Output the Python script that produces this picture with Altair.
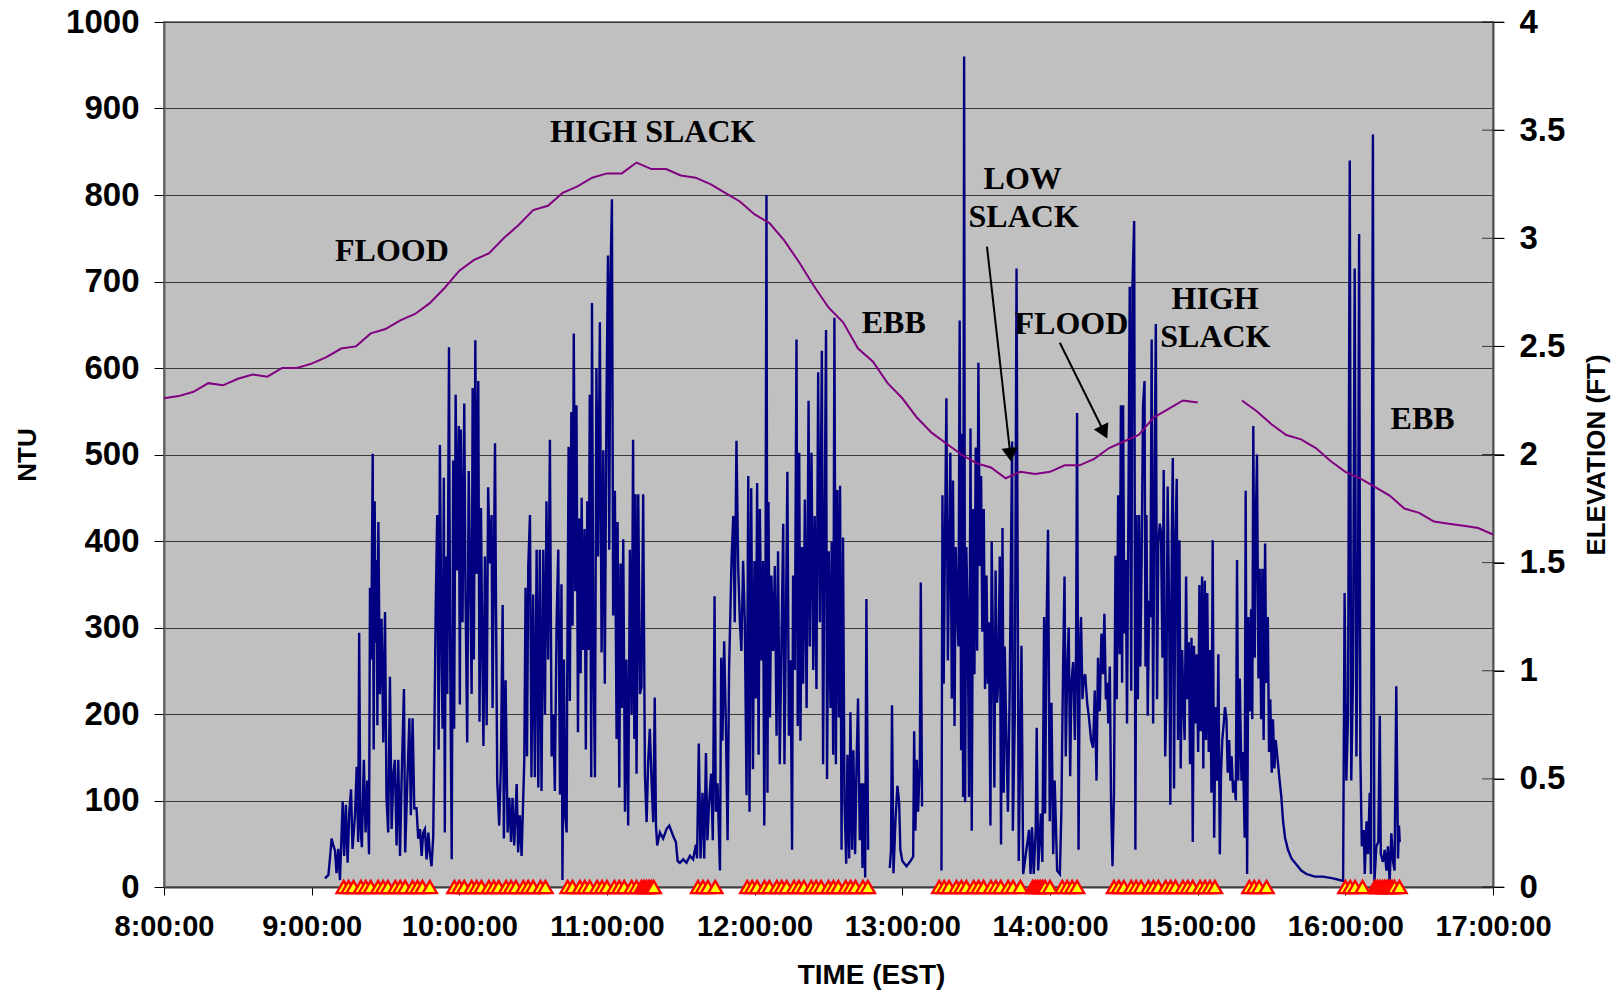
import altair as alt
import pandas as pd

# ---------------- data (time = minutes after 8:00:00) ----------------
hour_ticks = [0, 60, 120, 180, 240, 300, 360, 420, 480, 540]
ntu_ticks = [0, 100, 200, 300, 400, 500, 600, 700, 800, 900, 1000]
elev_ticks = [0, 0.5, 1, 1.5, 2, 2.5, 3, 3.5, 4]

# turbidity (NTU), three continuous runs of the record
ntu_seg1 = [
    (65.4, 10), (66.8, 14), (67.4, 32), (68.1, 56), (68.8, 48), (69.5, 42), (70.1, 16), (70.8, 44),
    (71.5, 8), (72.6, 99), (73.2, 36), (73.9, 95), (74.6, 28), (75.3, 87), (76.0, 113), (76.6, 44),
    (77.6, 83), (78.3, 139), (78.9, 52), (79.3, 294), (79.8, 71), (80.4, 46), (81.2, 147), (81.9, 63),
    (82.6, 123), (83.3, 38), (83.7, 346), (84.2, 263), (84.8, 501), (85.2, 159), (85.6, 446), (86.0, 282),
    (86.4, 378), (86.7, 187), (87.1, 422), (87.7, 223), (88.4, 310), (89.1, 167), (89.8, 318), (90.4, 103),
    (91.1, 63), (91.8, 243), (92.5, 67), (93.2, 131), (93.8, 147), (94.5, 48), (95.2, 147), (95.9, 36),
    (96.5, 119), (97.5, 229), (98.0, 40), (98.8, 115), (99.7, 195), (100.3, 83), (101.0, 195), (101.7, 91),
    (102.6, 91), (103.3, 56), (104.0, 67), (104.7, 36), (105.3, 63), (106.0, 67), (106.7, 32), (107.4, 63),
    (108.0, 40), (108.7, 24), (109.4, 59),
    (110.4, 322), (111.0, 430), (111.6, 159), (112.1, 511), (112.8, 255), (113.2, 183), (113.7, 473),
    (114.1, 63), (114.5, 382), (115.1, 223), (115.8, 624), (116.2, 302), (116.9, 32), (117.5, 493),
    (117.9, 183), (118.5, 569), (119.2, 366), (119.8, 533), (120.2, 211), (120.6, 529), (121.3, 306),
    (122.0, 559), (122.5, 342), (123.2, 167), (123.8, 481), (124.3, 382), (125.0, 223), (125.4, 577),
    (125.9, 263), (126.5, 632), (127.0, 362), (127.7, 585), (128.2, 191), (128.8, 438), (129.3, 282),
    (129.8, 163), (130.4, 382), (131.1, 187), (131.7, 462), (132.4, 374), (133.1, 430), (133.5, 207),
    (134.5, 513), (134.9, 326), (135.4, 123), (136.2, 71), (136.9, 143), (137.6, 326), (138.1, 56),
    (138.8, 239), (139.6, 63), (140.3, 103), (141.0, 52), (141.6, 103), (142.3, 48), (143.3, 119),
    (143.9, 40), (144.6, 83), (145.3, 36), (146.4, 147), (146.9, 346), (147.5, 151), (148.0, 370),
    (148.7, 430), (149.3, 127), (150.0, 338), (150.7, 127), (151.4, 390), (152.1, 115), (152.7, 390),
    (153.4, 111), (154.1, 390), (154.8, 199), (155.4, 446), (156.1, 263), (156.8, 517), (157.5, 151),
    (158.2, 199), (158.8, 111), (159.5, 302), (160.2, 390), (160.9, 107), (161.5, 350), (161.9, 8),
    (162.5, 263), (163.0, 83), (163.6, 63),
    (163.8, 223), (164.4, 509), (164.9, 215), (165.5, 549), (166.0, 302), (166.5, 640), (167.1, 342),
    (167.6, 557), (168.2, 179), (168.7, 426), (169.3, 247), (169.7, 450), (170.3, 274), (170.9, 414),
    (171.4, 159), (172.0, 446), (172.5, 274), (173.0, 569), (173.6, 127), (173.9, 675), (174.4, 290),
    (175.1, 127), (175.7, 600), (176.4, 382), (177.1, 653), (177.8, 271), (178.5, 505), (179.1, 235),
    (179.8, 560), (180.4, 730), (180.9, 390), (181.4, 700), (182.0, 795), (182.5, 314), (183.2, 458),
    (183.9, 171), (184.3, 422), (185.0, 115), (185.5, 374), (186.0, 207), (186.6, 402), (187.3, 87),
    (187.9, 263), (188.6, 71), (189.3, 390), (190.0, 199), (190.6, 517), (191.1, 171), (191.6, 454),
    (192.0, 131), (192.7, 454), (193.4, 223), (194.0, 231), (194.7, 454), (195.4, 131), (196.1, 75),
    (196.7, 143), (197.4, 183), (198.1, 123), (198.8, 75), (199.4, 219), (199.9, 71), (200.4, 48),
    (201.5, 63), (202.8, 56), (204.2, 67), (205.3, 71), (206.9, 59), (208.0, 52), (208.7, 30),
    (209.6, 28), (211.0, 32), (212.3, 28), (213.7, 36), (215.0, 32),
    (216.1, 49), (216.6, 33), (217.3, 166), (218.0, 33), (218.8, 109), (219.5, 33), (220.2, 155),
    (220.8, 54), (221.5, 98), (222.3, 131), (223.0, 54), (223.7, 336), (224.2, 87), (224.9, 120),
    (225.9, 19), (226.4, 265), (226.9, 169), (227.6, 284), (228.3, 188), (229.0, 54), (229.6, 251),
    (230.6, 377), (231.3, 429), (231.9, 306), (232.6, 516), (233.3, 371), (234.0, 306), (234.6, 273),
    (235.3, 377), (236.0, 306), (236.7, 106), (237.4, 475), (237.9, 87), (238.6, 461), (239.3, 136),
    (239.9, 377), (240.5, 218), (241.0, 467), (241.6, 153), (242.1, 437), (242.8, 262), (243.4, 377),
    (243.9, 71), (244.3, 229), (244.8, 800), (245.2, 109), (245.6, 445), (246.2, 196), (246.8, 360),
    (247.5, 273), (248.2, 371), (248.9, 175), (249.5, 388), (250.2, 142), (250.9, 284), (251.6, 420),
    (252.1, 142), (252.7, 306), (253.3, 480), (253.9, 175), (254.6, 262), (255.2, 43), (255.6, 360),
    (256.3, 251), (257.0, 633), (257.5, 186), (258.1, 502), (258.6, 169), (259.2, 393), (259.7, 235),
    (260.4, 448), (261.1, 207), (261.9, 562), (262.4, 278), (263.1, 502), (263.8, 251), (264.4, 429),
    (265.1, 229), (265.8, 595), (266.5, 306), (267.3, 620), (267.8, 142), (268.4, 415), (269.0, 644),
    (269.4, 125), (270.1, 388), (270.8, 207), (271.3, 399), (271.9, 153), (272.4, 658), (273.0, 142),
    (273.6, 459), (274.2, 196), (274.7, 464), (275.3, 43), (275.9, 404), (276.5, 98), (277.2, 27),
    (277.7, 153), (278.4, 33), (278.9, 202), (279.6, 43), (280.1, 158), (280.8, 38), (281.4, 142),
    (282.0, 218), (282.7, 54), (283.4, 120), (283.8, 22), (284.3, 120), (284.9, 11), (285.4, 333),
    (286.1, 43),
]

ntu_seg2 = [
    (294.9, 22), (295.4, 43), (295.8, 210), (296.4, 16), (297.2, 76), (298.0, 117), (298.7, 98),
    (299.2, 43), (300.0, 30), (301.7, 24), (303.3, 30), (304.4, 35), (304.8, 180), (305.3, 65),
    (305.9, 147), (306.4, 87), (307.1, 142), (307.5, 352), (308.0, 93),
]

ntu_seg3 = [
    (315.9, 19), (316.3, 453), (316.8, 235), (317.4, 420), (317.9, 565), (318.5, 262), (319.0, 377),
    (319.5, 502), (320.1, 218), (320.6, 470), (321.2, 186), (321.7, 393), (322.3, 317), (322.8, 278),
    (323.3, 655), (323.9, 158), (324.3, 524), (324.7, 104), (325.1, 960), (325.5, 98), (326.0, 393),
    (326.6, 306), (327.1, 104), (327.7, 530), (328.2, 65), (328.8, 437), (329.3, 246), (329.8, 508),
    (330.4, 273), (330.9, 606), (331.5, 371), (332.0, 475), (332.5, 295), (333.1, 437), (333.6, 229),
    (334.2, 360), (334.7, 235), (335.2, 306), (335.8, 71), (336.3, 399), (336.9, 262), (337.4, 115),
    (337.9, 366), (338.5, 213), (339.0, 240), (339.6, 382), (340.1, 49), (340.7, 415), (341.2, 109),
    (341.6, 278), (342.3, 169), (342.9, 87), (343.6, 224), (344.6, 515), (344.9, 65), (345.7, 196),
    (346.4, 715), (347.3, 30), (348.4, 279), (349.1, 15), (351.5, 66), (352.1, 15), (352.7, 69),
    (353.4, 15), (354.2, 66), (354.6, 184), (355.2, 19), (356.3, 85), (356.9, 29), (357.6, 312),
    (358.0, 85), (358.6, 298), (359.2, 413), (359.9, 76), (360.6, 213), (361.3, 38), (361.9, 123),
    (362.9, 19), (364.0, 15), (364.6, 85), (365.3, 250), (365.9, 359), (366.4, 151), (367.0, 250),
    (367.6, 300), (368.2, 128), (368.7, 236), (369.4, 260), (370.1, 170), (370.6, 276), (371.0, 548),
    (371.6, 43), (372.1, 272), (372.6, 312), (373.2, 217), (373.7, 241), (374.3, 246), (375.1, 213),
    (375.9, 194), (376.7, 170), (377.5, 161), (378.2, 227), (378.9, 123), (379.5, 265), (380.2, 203),
    (380.9, 293), (381.6, 246), (382.1, 316), (382.7, 217), (383.2, 236), (383.7, 189), (384.3, 255),
    (384.8, 100), (385.4, 24), (386.0, 109), (386.6, 383), (387.1, 217), (387.7, 453), (388.3, 269),
    (388.8, 557), (389.3, 236), (389.7, 557), (390.2, 293), (390.8, 378), (391.3, 189), (391.9, 453),
    (392.4, 694), (393.0, 227), (393.5, 694), (394.2, 770), (394.7, 43), (395.1, 430), (395.7, 217),
    (396.2, 430), (396.7, 255), (397.3, 397), (397.8, 557), (398.4, 585), (398.8, 255), (399.2, 430),
    (399.7, 198), (400.3, 331), (400.8, 312), (401.3, 633), (401.9, 189), (402.4, 434), (403.0, 651),
    (403.5, 217), (404.0, 397), (404.6, 420), (405.1, 411), (405.7, 265), (406.2, 482), (406.8, 151),
    (407.3, 217), (407.8, 463), (408.4, 321), (408.9, 95), (409.5, 406), (409.9, 496), (410.4, 114),
    (411.0, 406), (411.5, 472), (412.0, 170), (412.6, 401), (413.1, 137), (413.7, 274), (414.2, 213),
    (414.7, 170), (415.3, 359), (415.8, 217), (416.4, 283), (416.9, 142), (417.5, 288), (418.0, 52),
    (418.5, 279), (419.1, 189), (419.6, 269), (420.2, 156), (420.7, 349), (421.2, 180), (421.8, 359),
    (422.3, 137), (422.9, 354), (423.4, 170), (423.9, 340), (424.5, 156), (425.0, 274), (425.6, 109),
    (426.1, 401), (426.7, 57), (427.3, 208), (427.9, 123), (428.4, 269), (429.0, 38), (429.5, 132),
    (430.0, 170), (430.6, 189), (431.1, 208), (431.7, 194), (432.2, 132), (432.8, 170), (433.3, 123),
    (433.8, 151), (434.4, 109), (434.9, 123), (435.5, 100), (436.0, 378), (436.5, 123), (437.1, 241),
    (437.8, 123), (438.4, 156), (439.1, 57), (439.5, 458), (440.1, 15), (440.6, 312), (441.2, 203),
    (441.7, 321), (442.2, 194), (442.6, 533), (443.2, 265), (443.6, 415), (444.1, 500), (444.7, 241),
    (445.2, 368), (445.8, 194), (446.3, 368), (446.8, 170), (447.4, 397), (447.9, 236), (448.5, 312),
    (449.0, 156), (449.5, 217), (450.1, 132), (450.6, 194), (451.2, 137), (451.7, 170), (452.5, 147),
    (453.3, 123), (454.0, 104), (454.7, 76), (455.5, 57), (456.7, 43), (458.1, 33), (460.1, 26),
    (462.1, 19), (464.2, 15), (467.6, 12), (470.9, 12), (475.0, 10), (479.1, 7), (479.7, 340),
    (480.4, 123), (481.1, 198), (481.8, 840), (482.4, 123), (483.1, 241), (483.8, 715), (484.5, 151),
    (485.2, 368), (485.6, 755), (486.1, 151), (486.7, 47), (487.5, 66), (487.9, 15), (488.6, 76),
    (489.2, 38), (489.9, 109), (490.4, 15), (491.2, 870), (491.8, 5), (492.6, 47), (493.4, 52),
    (494.0, 198), (494.4, 38), (495.3, 29), (496.0, 43), (496.7, 19), (497.3, 47), (498.0, 5),
    (498.7, 62), (499.4, 29), (500.0, 19), (500.7, 232), (501.4, 33), (501.8, 71), (502.1, 52),
]

# tide elevation (ft), 6-minute readings, with a gap in the record
elev1_t = [i * 6 for i in range(71)]   # 0 .. 420 min, 6-min sample times
elev1_v = [2.26, 2.27, 2.29, 2.33, 2.32, 2.35, 2.37, 2.36, 2.40, 2.40,
           2.42, 2.45, 2.49, 2.50, 2.56, 2.58, 2.62, 2.65, 2.70, 2.77,
           2.85, 2.90, 2.93, 3.00, 3.06, 3.13, 3.15, 3.21, 3.24, 3.28,
           3.30, 3.30, 3.35, 3.32, 3.32, 3.29, 3.28, 3.25, 3.21, 3.17,
           3.11, 3.07, 2.99, 2.89, 2.78, 2.68, 2.61, 2.49, 2.43, 2.33,
           2.26, 2.17, 2.10, 2.05, 2.00, 1.96, 1.94, 1.89, 1.92, 1.91,
           1.92, 1.95, 1.95, 1.98, 2.03, 2.06, 2.09, 2.17, 2.21, 2.25,
           2.24]
elev2_t = [438 + i * 6 for i in range(18)]  # 438 .. 540 min
elev2_v = [2.25, 2.20, 2.14, 2.09, 2.07, 2.03, 1.97, 1.92, 1.89, 1.85,
           1.81, 1.75, 1.73, 1.69, 1.68, 1.67, 1.66, 1.63]

# event markers on the zero line
tri_t = [73, 75, 77, 80, 82, 84, 87, 89, 91, 94, 96, 98, 101, 103, 105, 108,
         118, 120, 122, 125, 127, 129, 132, 134, 136, 139, 141, 143, 146, 148, 150, 153, 155,
         164, 166, 169, 171, 173, 176, 178, 180, 183, 185, 187, 190, 192, 194, 195, 196, 197, 198, 199,
         217, 219, 221, 224,
         237, 239, 241, 244, 246, 249, 251, 253, 256, 258, 260, 263, 265, 267, 270, 272, 274, 277,
         279, 281, 284, 286,
         315, 317, 319, 322, 324, 326, 329, 331, 333, 336, 338, 340, 343, 345, 348,
         353, 354, 355, 356, 357, 358, 360,
         365, 367, 369, 371,
         386, 388, 390, 393, 395, 397, 400, 402, 404, 407, 409, 411, 414, 416, 418, 421, 423, 425, 427,
         441, 443, 445, 448,
         480, 482, 484, 487,
         492, 493, 494, 495, 496, 497, 498, 499, 500, 502]

# annotations
ann_text = ["HIGH SLACK", "FLOOD", "EBB", "LOW", "SLACK", "FLOOD", "HIGH", "SLACK", "EBB"]
ann_t = [198.6, 92.6, 296.5, 348.9, 349.3, 368.7, 427.1, 427.2, 511.4]
ann_v = [872.8, 735.3, 652.6, 818.5, 774.6, 650.9, 679.5, 635.3, 540.5]

arrow_t0 = [334.4, 364.0]
arrow_v0 = [740.2, 629.2]
arrow_t1 = [343.9, 382.0]
arrow_v1 = [499.6, 525.8]
arrow_ang = [353.5, 333.5]

# ---------------- frames ----------------
rows = []
for name, seg in (("a", ntu_seg1), ("b", ntu_seg2), ("c", ntu_seg3)):
    for t, v in seg:
        rows.append({"t": t, "v": v, "seg": name})
ntu_df = pd.DataFrame(rows)

elev_df = pd.concat([
    pd.DataFrame({"t": elev1_t, "e": elev1_v, "seg": "a"}),
    pd.DataFrame({"t": elev2_t, "e": elev2_v, "seg": "b"}),
])
tri_df = pd.DataFrame({"t": tri_t, "v": [0] * len(tri_t)})
ann_df = pd.DataFrame({"t": ann_t, "v": ann_v, "label": ann_text})
arrow_df = pd.DataFrame({"t": arrow_t0, "v": arrow_v0, "t2": arrow_t1, "v2": arrow_v1, "ang": arrow_ang})
etick_df = pd.DataFrame({"t": [540] * len(elev_ticks), "e": elev_ticks})

FONT = "Liberation Sans"

x_axis = alt.Axis(
    values=hour_ticks, labelExpr="(datum.value/60+8) + ':00:00'",
    title="TIME (EST)", grid=False,
    labelFont=FONT, labelFontWeight="bold", labelFontSize=29, labelColor="black",
    labelPadding=17, labelFlush=False, labelOverlap=False,
    tickSize=8, tickColor="black", tickWidth=1,
    domainColor="#404040", domainWidth=2,
    titleFont=FONT, titleFontWeight="bold", titleFontSize=28, titleColor="black",
    titleX=707, titleY=96, titleAlign="center", titleBaseline="alphabetic",
)
x_enc = alt.X("t:Q", scale=alt.Scale(domain=[0, 540], nice=False, zero=False), axis=x_axis)

y_axis = alt.Axis(
    orient="left", values=ntu_ticks, format="d", title="NTU",
    grid=True, gridColor="#3a3a3a", gridWidth=1.2,
    labelFont=FONT, labelFontWeight="bold", labelFontSize=33, labelColor="black",
    labelPadding=15, tickSize=10, tickColor="black", tickWidth=1,
    domainColor="#606060", domainWidth=2,
    titleFont=FONT, titleFontWeight="bold", titleFontSize=26, titleColor="black",
    titleX=-137, titleY=432.5, titleAngle=270, titleAlign="center", titleBaseline="middle",
)
y_enc = alt.Y("v:Q", scale=alt.Scale(domain=[0, 1000], nice=False), axis=y_axis)

e_axis = alt.Axis(
    orient="right", values=elev_ticks, format="~g", title="ELEVATION (FT)", grid=False,
    labelFont=FONT, labelFontWeight="bold", labelFontSize=33, labelColor="black",
    labelPadding=15, tickSize=11, tickColor="black", tickWidth=1,
    domainColor="#505050", domainWidth=2,
    titleFont=FONT, titleFontWeight="bold", titleFontSize=26, titleColor="black",
    titleX=103, titleY=432.5, titleAngle=270, titleAlign="center", titleBaseline="middle",
)
e_enc = alt.Y("e:Q", scale=alt.Scale(domain=[0, 4], nice=False), axis=e_axis)

ntu_line = alt.Chart(ntu_df).mark_line(color="#000080", strokeWidth=2.4).encode(
    x=x_enc, y=y_enc, detail="seg:N", order="t:Q")

tris = alt.Chart(tri_df).mark_point(
    shape="triangle-up", filled=True, fill="#FFFF00", stroke="#FF0000",
    strokeWidth=2.4, size=200, opacity=1).encode(x=x_enc, y=y_enc)

arrows = alt.Chart(arrow_df).mark_rule(color="black", strokeWidth=2).encode(
    x=x_enc, y=y_enc, x2="t2:Q", y2="v2:Q")

heads = alt.Chart(arrow_df).mark_point(
    shape="triangle-down", filled=True, color="black", size=260, opacity=1).encode(
    x=alt.X("t2:Q", scale=alt.Scale(domain=[0, 540], nice=False, zero=False), axis=x_axis),
    y=alt.Y("v2:Q", scale=alt.Scale(domain=[0, 1000], nice=False), axis=y_axis),
    angle=alt.Angle("ang:Q", scale=None))

texts = alt.Chart(ann_df).mark_text(
    font="Liberation Serif", fontWeight="bold", fontSize=32, color="black",
    align="center", baseline="middle").encode(x=x_enc, y=y_enc, text="label:N")

elev_line = alt.Chart(elev_df).mark_line(color="#800080", strokeWidth=2).encode(
    x=x_enc, y=e_enc, detail="seg:N", order="t:Q")

etick = alt.Chart(etick_df).mark_tick(orient="horizontal", size=22, thickness=1, color="black").encode(
    x=x_enc, y=e_enc)

ntu_group = alt.layer(ntu_line, tris, arrows, heads, texts)
elev_group = alt.layer(elev_line, etick)

chart = alt.layer(ntu_group, elev_group).resolve_scale(y="independent").properties(
    width=1329, height=865,
    autosize=alt.AutoSizeParams(type="none"),
    padding={"left": 164, "top": 22, "right": 127, "bottom": 105},
    background="white",
).configure_view(fill="#C0C0C0", stroke="#808080", strokeWidth=2)

chart.save("out.html", embed_options={"renderer": "svg", "actions": False})
